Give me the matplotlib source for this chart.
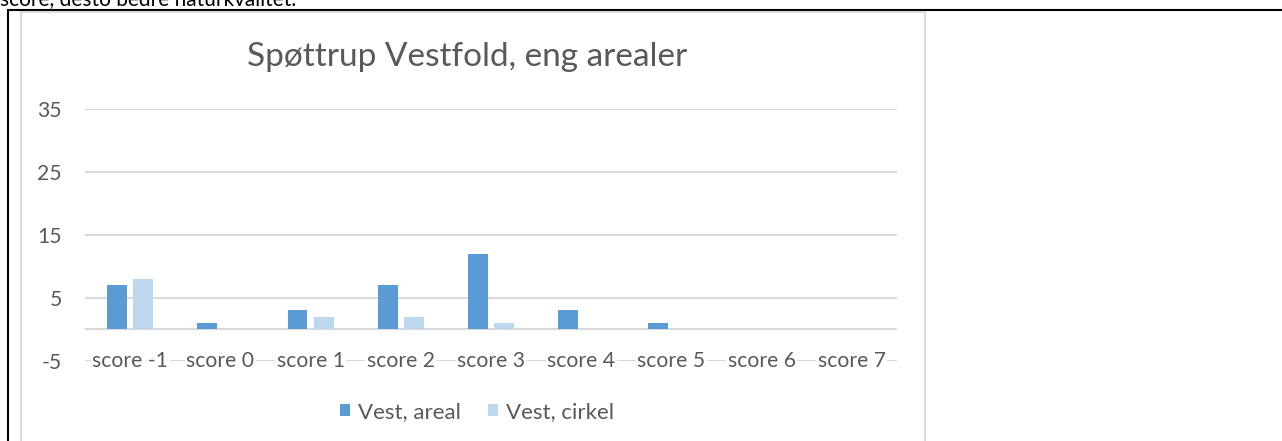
import matplotlib
matplotlib.use("Agg")
import matplotlib.pyplot as plt
from matplotlib.lines import Line2D
import numpy as np

# chart data #
categories = ["score -1", "score 0", "score 1", "score 2", "score 3",
              "score 4", "score 5", "score 6", "score 7"]
vest_areal = [7, 1, 3, 7, 12, 3, 1, 0, 0]
vest_cirkel = [8, 0, 2, 2, 1, 0, 0, 0, 0]
yticks = [-5, 5, 15, 25, 35]

W, H = 1282, 441
TXT = "#595959"
GRID = "#D9D9D9"
FS = 15.2
plt.rcParams['font.family'] = ['Lato', 'DejaVu Sans']
plt.rcParams['axes.unicode_minus'] = False

fig = plt.figure(figsize=(W / 100, H / 100), dpi=100)

# pixel (from top-left) -> figure fraction #
def fx(x): return x / W
def fy(y): return 1 - y / H

def hline(x0, x1, y, color, lw):
    fig.add_artist(Line2D([fx(x0), fx(x1)], [fy(y), fy(y)], color=color,
                          lw=lw, transform=fig.transFigure, solid_capstyle='butt'))

def vline(x, y0, y1, color, lw):
    fig.add_artist(Line2D([fx(x), fx(x)], [fy(y0), fy(y1)], color=color,
                          lw=lw, transform=fig.transFigure, solid_capstyle='butt'))

# document bits around the chart (table borders, cut-off text line) #
fig.text(fx(0), fy(5.5), "score, desto bedre naturkvalitet.", fontsize=15,
         color="black", ha="left", va="baseline")
hline(7, W, 9.5, "black", 1.5)
vline(8, 9, H, "black", 1.5)
# chart area border #
hline(20, 925, 11.5, GRID, 1.5)
vline(20.5, 11, H, GRID, 1.5)
vline(925, 11, H, GRID, 1.5)

# plot area #
left, right, top, bottom = 85, 897, 109.3, 360.7
ax = fig.add_axes([fx(left), fy(bottom), fx(right - left), (bottom - top) / H])

x = np.arange(len(categories))
bw = 0.22
off = 0.145
b1 = ax.bar(x - off, vest_areal, bw, color="#5B9BD5", label="Vest, areal", zorder=3)
b2 = ax.bar(x + off, vest_cirkel, bw, color="#BDD7EE", label="Vest, cirkel", zorder=3)

ax.set_xlim(-0.5, len(categories) - 0.5)
ax.set_ylim(-5, 35)
ax.set_yticks(yticks)
ax.yaxis.grid(True, color=GRID, lw=1.5, zorder=0)
ax.axhline(0, color=GRID, lw=1.5, zorder=1)
for s in ax.spines.values():
    s.set_visible(False)
ax.tick_params(axis='y', length=0, pad=16.6, labelsize=FS, labelcolor=TXT)
ax.set_xticks([])
# category labels sit on the -5 gridline, with white behind them #
for i, c in enumerate(categories):
    ax.text(i, -5, c, ha="center", va="center", fontsize=FS, color=TXT,
            zorder=5, clip_on=False,
            bbox=dict(facecolor="white", edgecolor="none", pad=1))

fig.text(fx(467), fy(57), "Spøttrup Vestfold, eng arealer", fontsize=24,
         color=TXT, ha="center", va="center")

fig.legend(handles=[b1, b2], loc="center", bbox_to_anchor=(fx(477), fy(412)),
           ncol=2, frameon=False, fontsize=16, labelcolor=TXT,
           handlelength=0.45, handleheight=0.45, handletextpad=0.36,
           columnspacing=1.2)

fig.savefig("out.png", dpi=100, facecolor="white")
